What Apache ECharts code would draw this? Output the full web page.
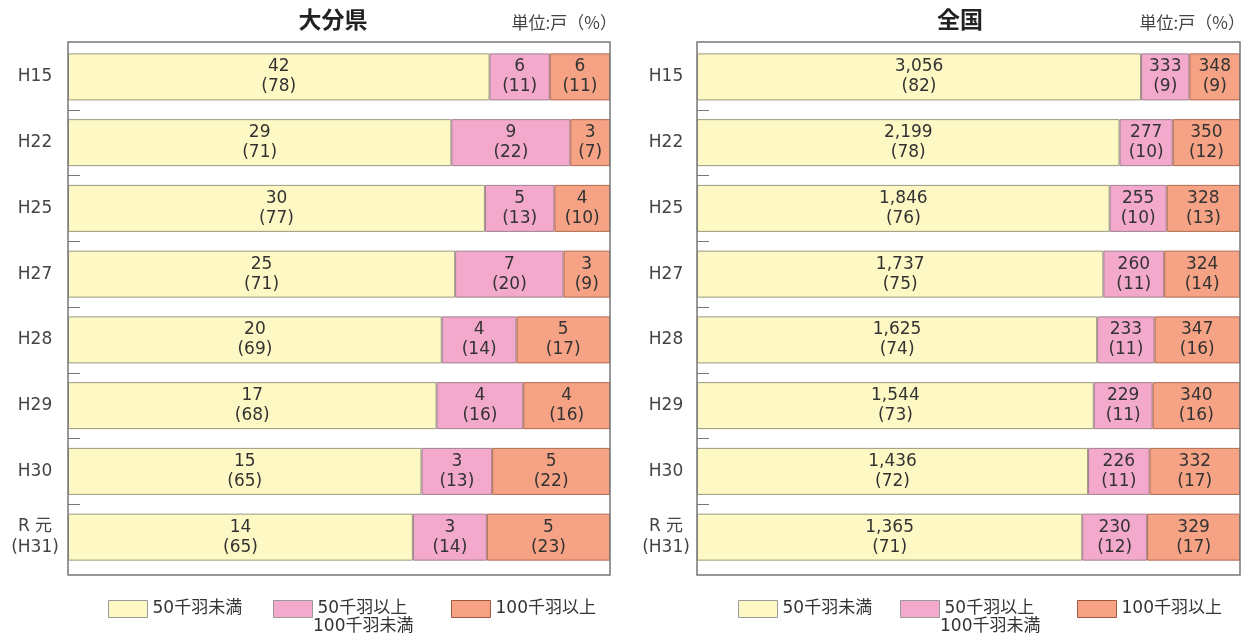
<!DOCTYPE html>
<html><head><meta charset="utf-8">
<script src="https://cdn.jsdelivr.net/npm/echarts@6/dist/echarts.min.js"></script>
<style>html,body{margin:0;padding:0;background:#fff}#c{width:1250px;height:643px}</style>
</head><body><div id="c"></div>
<script>
const categories = ['H15','H22','H25','H27','H28','H29','H30','R 元\n(H31)'];
const seriesNames = ['50千羽未満','50千羽以上100千羽未満','100千羽以上'];
const legendLabels = ['50千羽未満','50千羽以上','100千羽以上'];
const legendSecondLine = '100千羽未満';
// 大分県 counts (戸) and printed shares (%)
const oitaSmall = [42,29,30,25,20,17,15,14];
const oitaMid   = [6,9,5,7,4,4,3,3];
const oitaLarge = [6,3,4,3,5,4,5,5];
const oitaSmallPct = [78,71,77,71,69,68,65,65];
const oitaMidPct   = [11,22,13,20,14,16,13,14];
const oitaLargePct = [11,7,10,9,17,16,22,23];
// 全国 counts (戸) and printed shares (%)
const zenSmall = [3056,2199,1846,1737,1625,1544,1436,1365];
const zenMid   = [333,277,255,260,233,229,226,230];
const zenLarge = [348,350,328,324,347,340,332,329];
const zenSmallPct = [82,78,76,75,74,73,72,71];
const zenMidPct   = [9,10,10,11,11,11,11,12];
const zenLargePct = [9,12,13,14,16,16,17,17];

const FONT = '"DejaVu Sans","Noto Sans CJK JP",sans-serif';
const JFONT = '"Noto Sans CJK JP","Noto Sans",sans-serif';
const colors = ['#FEF8C4','#F3A9CB','#F5A285'];
const borders = ['#9a9a80','#a08090','#b06a50'];
const legendBorders = ['#999','#999','#a05a40'];

function build(gridIndex, counts, pcts){
  const totals = counts[0].map((_,i)=>counts[0][i]+counts[1][i]+counts[2][i]);
  return counts.map((arr,s)=>({
    name: seriesNames[s], type:'bar', stack:'g'+gridIndex,
    xAxisIndex:gridIndex, yAxisIndex:gridIndex, barWidth:47,
    itemStyle:{color:colors[s], borderColor:borders[s], borderWidth:1},
    emphasis:{disabled:true},
    label:{show:true, position:'inside', fontFamily:FONT, fontSize:17, lineHeight:20, color:'#333',
      formatter:p=>arr[p.dataIndex].toLocaleString('en-US')+'\n('+pcts[s][p.dataIndex]+')'},
    data: arr.map((v,i)=>v/totals[i])
  }));
}

function legends(lefts){
  return lefts.map((l,s)=>({
    left:l, top:595, itemWidth:39, itemHeight:17, icon:'rect', selectedMode:false,
    textStyle:{fontFamily:FONT, fontSize:17, color:'#333'},
    formatter:()=>legendLabels[s],
    data:[{name:seriesNames[s], itemStyle:{borderColor:legendBorders[s], borderWidth:1}}]
  }));
}

const chart = echarts.init(document.getElementById('c'));
const yAxisBase = {
  type:'category', data:categories, inverse:true,
  axisLine:{show:false},
  axisTick:{show:true, inside:true, length:12, lineStyle:{color:'#777'}, interval:(i)=>i!==0},
  axisLabel:{fontFamily:FONT, fontSize:17, color:'#444', align:'center', lineHeight:21}
};
chart.setOption({
  animation:false,
  title:[
    {text:'大分県', left:328, top:3, textAlign:'center', textStyle:{fontFamily:JFONT, fontSize:23, fontWeight:'bold', color:'#222'}},
    {text:'単位:戸（%）', right:628, top:9, textStyle:{fontFamily:JFONT, fontSize:17, fontWeight:'normal', color:'#444'}},
    {text:'全国', left:955, top:3, textAlign:'center', textStyle:{fontFamily:JFONT, fontSize:23, fontWeight:'bold', color:'#222'}},
    {text:'単位:戸（%）', right:0, top:9, textStyle:{fontFamily:JFONT, fontSize:17, fontWeight:'normal', color:'#444'}}
  ],
  legend:[...legends([103,268,446]), ...legends([733,895,1072])],
  graphic:[
    {type:'rect', shape:{x:69, y:565, width:14, height:8}, style:{fill:'#fff'}, z:9, silent:true},
    {type:'rect', shape:{x:698, y:565, width:14, height:8}, style:{fill:'#fff'}, z:9, silent:true},
    {type:'rect', shape:{x:68, y:42, width:542, height:533}, style:{fill:null, stroke:'#777', lineWidth:1.5}, z:10, silent:true},
    {type:'rect', shape:{x:697, y:42, width:543, height:533}, style:{fill:null, stroke:'#777', lineWidth:1.5}, z:10, silent:true},
    {type:'text', x:313, y:618, style:{text:legendSecondLine, font:'17px '+FONT, fill:'#333'}, silent:true},
    {type:'text', x:940, y:618, style:{text:legendSecondLine, font:'17px '+FONT, fill:'#333'}, silent:true}
  ],
  grid:[
    {left:68, right:640, top:44, bottom:73},
    {left:697, right:10, top:44, bottom:73}
  ],
  xAxis:[
    {gridIndex:0, type:'value', min:0, max:1, show:false},
    {gridIndex:1, type:'value', min:0, max:1, show:false}
  ],
  yAxis:[
    Object.assign({gridIndex:0}, yAxisBase, {axisLabel:Object.assign({}, yAxisBase.axisLabel, {margin:33})}),
    Object.assign({gridIndex:1}, yAxisBase, {axisLabel:Object.assign({}, yAxisBase.axisLabel, {margin:31})})
  ],
  series:[
    ...build(0,[oitaSmall,oitaMid,oitaLarge],[oitaSmallPct,oitaMidPct,oitaLargePct]),
    ...build(1,[zenSmall,zenMid,zenLarge],[zenSmallPct,zenMidPct,zenLargePct])
  ]
});
</script></body></html>
